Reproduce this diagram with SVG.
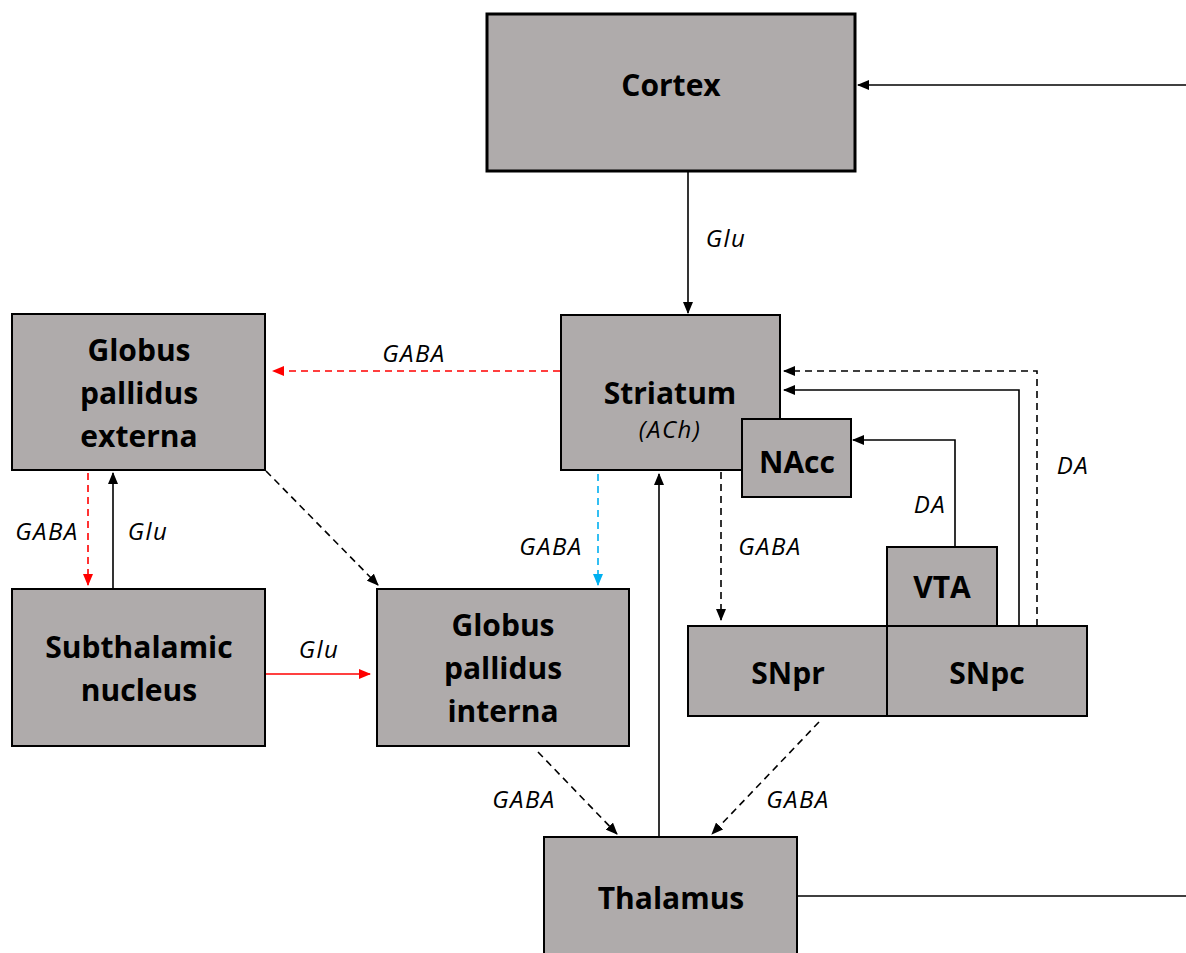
<svg xmlns="http://www.w3.org/2000/svg" width="1186" height="953" viewBox="0 0 1186 953">
<style>
.box{fill:#AFABAB;stroke:#000;stroke-width:2}
.thick{stroke-width:3}
.t{font-family:"Open Sans","Liberation Sans",sans-serif;font-weight:bold;font-size:30px;text-anchor:middle;fill:#000}
.l{font-family:"Open Sans","Liberation Sans",sans-serif;font-style:italic;font-size:24px;letter-spacing:1.5px;text-anchor:middle;fill:#000}
.c{fill:none;stroke:#000;stroke-width:1.6}
.d{stroke-dasharray:7,5}
.red{stroke:#FF0000}
.blue{stroke:#00B0F0}
</style>
<defs>
<marker id="ab" markerUnits="userSpaceOnUse" markerWidth="12" markerHeight="10" refX="11" refY="5" orient="auto"><path d="M0,0 L12,5 L0,10 z" fill="#000"/></marker>
<marker id="ar" markerUnits="userSpaceOnUse" markerWidth="12" markerHeight="10" refX="11" refY="5" orient="auto"><path d="M0,0 L12,5 L0,10 z" fill="#FF0000"/></marker>
<marker id="abl" markerUnits="userSpaceOnUse" markerWidth="12" markerHeight="10" refX="11" refY="5" orient="auto"><path d="M0,0 L12,5 L0,10 z" fill="#00B0F0"/></marker>
</defs>
<g id="connectors">
<line class="c" x1="1186" y1="85" x2="858" y2="85" marker-end="url(#ab)"/>
<line class="c" x1="688" y1="172" x2="688" y2="313" marker-end="url(#ab)"/>
<line class="c d red" x1="560" y1="371" x2="273" y2="371" marker-end="url(#ar)"/>
<polyline class="c d" points="1037,626 1037,371 784,371" marker-end="url(#ab)"/>
<polyline class="c" points="1019,626 1019,390 784,390" marker-end="url(#ab)"/>
<polyline class="c" points="955,547 955,440 853,440" marker-end="url(#ab)"/>
<line class="c d" x1="721" y1="472" x2="721" y2="620" marker-end="url(#ab)"/>
<line class="c d blue" x1="598" y1="474" x2="598" y2="585" marker-end="url(#abl)"/>
<line class="c d red" x1="88" y1="473" x2="88" y2="585" marker-end="url(#ar)"/>
<line class="c" x1="113" y1="589" x2="113" y2="473" marker-end="url(#ab)"/>
<line class="c d" x1="266" y1="471" x2="378" y2="585" marker-end="url(#ab)"/>
<line class="c red" x1="265" y1="674" x2="370" y2="674" marker-end="url(#ar)"/>
<line class="c d" x1="538" y1="752" x2="617" y2="834" marker-end="url(#ab)"/>
<line class="c d" x1="819" y1="722" x2="712" y2="834" marker-end="url(#ab)"/>
<line class="c" x1="659" y1="837" x2="659" y2="474" marker-end="url(#ab)"/>
<line class="c" x1="797" y1="896" x2="1186" y2="896"/>
</g>
<g id="labels">
<text class="l" x="726" y="247">Glu</text>
<text class="l" x="414" y="362">GABA</text>
<text class="l" x="47" y="540">GABA</text>
<text class="l" x="148" y="540">Glu</text>
<text class="l" x="551" y="555">GABA</text>
<text class="l" x="770" y="555">GABA</text>
<text class="l" x="930" y="513">DA</text>
<text class="l" x="1073" y="474">DA</text>
<text class="l" x="319" y="658">Glu</text>
<text class="l" x="524" y="808">GABA</text>
<text class="l" x="798" y="808">GABA</text>
</g>
<g id="cortex"><rect class="box thick" x="487" y="14" width="368" height="157"/><text class="t" x="671" y="96">Cortex</text></g>
<g id="striatum"><rect class="box" x="561" y="315" width="219" height="155" stroke-width="2.5"/><text class="t" x="670" y="404">Striatum</text><text class="l" x="670" y="438" font-size="26">(ACh)</text></g>
<g id="nacc"><rect class="box" x="742" y="419" width="109" height="78" stroke-width="2.5"/><text class="t" x="797" y="473">NAcc</text></g>
<g id="gpe"><rect class="box" x="12" y="314" width="253" height="156"/><text class="t" x="139" y="361">Globus</text><text class="t" x="139" y="404">pallidus</text><text class="t" x="139" y="447">externa</text></g>
<g id="stn"><rect class="box" x="12" y="589" width="253" height="157"/><text class="t" x="139" y="658">Subthalamic</text><text class="t" x="139" y="701">nucleus</text></g>
<g id="gpi"><rect class="box" x="377" y="589" width="252" height="157"/><text class="t" x="503" y="636">Globus</text><text class="t" x="503" y="679">pallidus</text><text class="t" x="503" y="722">interna</text></g>
<g id="snpr"><rect class="box" x="688" y="626" width="199" height="90"/><text class="t" x="788" y="684">SNpr</text></g>
<g id="snpc"><rect class="box" x="887" y="626" width="200" height="90"/><text class="t" x="987" y="684">SNpc</text></g>
<g id="vta"><rect class="box" x="887" y="547" width="110" height="79" stroke-width="2.5"/><text class="t" x="942" y="598">VTA</text></g>
<g id="thalamus"><rect class="box" x="544" y="837" width="253" height="130"/><text class="t" x="671" y="909">Thalamus</text></g>
</svg>
